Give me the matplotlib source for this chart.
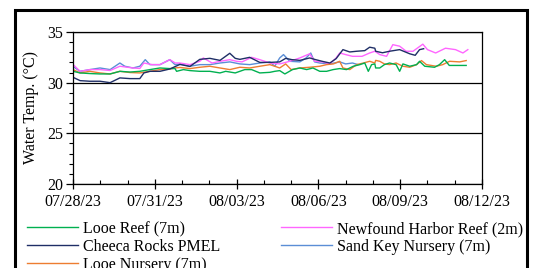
import numpy as np
import pandas as pd
import matplotlib
matplotlib.use('Agg')
from matplotlib import pyplot as plt
import matplotlib.dates as mdates
from matplotlib.patches import Rectangle

plt.rcParams['font.family'] = ['Liberation Serif', 'DejaVu Serif']

# data, days since 07/28/23 00:00
start = pd.Timestamp('2023-07-28')

looe_reef_days = [0, 0.26, 0.62, 0.99, 1.36, 1.72, 2.09, 2.45, 2.82, 3.19, 3.55, 3.74,
                  3.8, 4.05, 4.29, 4.65, 5.02, 5.39, 5.6, 5.95, 6.3, 6.55, 6.85, 7.22, 7.4,
                  7.58, 7.77, 8.05, 8.32, 8.57, 8.8, 9.05, 9.3, 9.54, 9.78, 10.03, 10.28, 10.52,
                  10.7, 10.83, 10.95, 11.07, 11.1, 11.25, 11.42, 11.61, 11.85, 11.98, 12.1, 12.35,
                  12.6, 12.71, 12.9, 13.26, 13.44, 13.63, 13.8, 14.18, 14.42]
looe_reef_temp = [31.12, 30.96, 30.9, 30.86, 30.86, 31.12, 31.05, 31.12, 31.29, 31.45, 31.39, 31.39,
                  31.12, 31.29, 31.19, 31.12, 31.12, 30.96, 31.12, 30.96, 31.29, 31.29, 30.96, 31.02, 31.12,
                  31.19, 30.86, 31.29, 31.45, 31.29, 31.45, 31.12, 31.12, 31.29, 31.39, 31.29, 31.62, 31.78,
                  31.94, 31.12, 31.78, 31.85, 31.45, 31.45, 31.78, 31.94, 31.78, 31.12, 31.85, 31.62,
                  31.78, 32.11, 31.62, 31.52, 31.78, 32.27, 31.7, 31.7, 31.7]

cheeca_days = [0, 0.26, 0.62, 0.99, 1.36, 1.72, 2.09, 2.45, 2.6, 2.82, 3.19, 3.55,
               3.92, 4.29, 4.65, 5.02, 5.39, 5.75, 5.95, 6.12, 6.48, 6.85, 7.22,
               7.58, 7.8, 8.03, 8.32, 8.68, 8.9, 9.15, 9.42, 9.65, 9.9, 10.15, 10.4, 10.7, 10.88, 11.07,
               11.1, 11.35, 11.61, 11.98, 12.35, 12.55, 12.71, 12.86]
cheeca_temp = [30.53, 30.2, 30.14, 30.14, 30.0, 30.47, 30.4, 30.4, 30.96, 31.12, 31.12, 31.35,
               31.8, 31.6, 32.3, 32.4, 32.2, 32.9, 32.4, 32.3, 32.5, 32.0, 32.0,
               32.05, 32.4, 32.27, 32.2, 32.44, 32.27, 32.1, 31.94, 32.37, 33.26, 33.03, 33.1, 33.16, 33.5, 33.4,
               33.1, 32.95, 33.1, 33.26, 32.85, 32.7, 33.26, 33.35]

looe_nursery_days = [0, 0.26, 0.62, 0.99, 1.36, 1.72, 2.09, 2.45, 2.82, 3.19, 3.55, 3.74,
                     3.92, 4.29, 4.65, 5.02, 5.39, 5.75, 6.12, 6.48, 6.85, 7.22, 7.4,
                     7.58, 7.8, 8.0, 8.32, 8.68, 9.05, 9.3, 9.55, 9.78, 9.9, 10.15, 10.4, 10.65, 10.88, 11.07,
                     11.1, 11.25, 11.42, 11.61, 11.85, 12.1, 12.35, 12.6, 12.78, 12.96, 13.32, 13.56,
                     13.81, 14.18, 14.42]
looe_nursery_temp = [31.29, 30.96, 31.12, 30.96, 30.86, 31.12, 31.0, 30.96, 31.12, 31.29, 31.35, 31.45,
                     31.5, 31.39, 31.52, 31.62, 31.45, 31.29, 31.52, 31.45, 31.62, 31.78, 31.62,
                     31.45, 31.85, 31.29, 31.45, 31.52, 31.62, 31.78, 31.85, 32.11, 31.45, 31.29, 31.78, 31.94, 32.11, 31.94,
                     32.2, 32.11, 31.85, 31.78, 31.94, 31.62, 31.52, 31.78, 32.18, 31.78, 31.62, 31.78,
                     32.11, 32.05, 32.18]

newfound_days = [0, 0.26, 0.62, 0.99, 1.36, 1.72, 2.2, 2.45, 2.6, 2.9, 3.19, 3.55,
                 3.75, 3.92, 4.29, 4.65, 4.78, 5.1, 5.4, 5.75, 6.0, 6.2, 6.55, 6.85, 7.22,
                 7.58, 7.95, 8.32, 8.68, 8.86, 9.15, 9.42, 9.65, 9.78, 10.0, 10.25, 10.6, 10.88, 11.07,
                 11.25, 11.5, 11.73, 11.98, 12.22, 12.47, 12.83, 13.0, 13.3, 13.66, 14.03, 14.3, 14.48]
newfound_temp = [31.8, 31.12, 31.29, 31.29, 31.2, 31.62, 31.45, 31.4, 31.94, 31.78, 31.78, 32.27,
                 31.94, 31.94, 31.78, 32.11, 32.44, 31.94, 32.11, 32.27, 32.11, 32.05, 32.5, 32.27, 31.94,
                 31.85, 32.11, 32.44, 32.85, 32.11, 32.05, 31.85, 32.44, 32.93, 32.77, 32.6, 32.6, 32.93, 33.1,
                 32.77, 32.6, 33.75, 33.6, 33.1, 33.1, 33.8, 33.26, 32.93, 33.4, 33.26, 32.93, 33.26]

sand_key_days = [0, 0.26, 0.62, 0.99, 1.36, 1.72, 1.9, 2.2, 2.45, 2.65, 2.82, 3.19, 3.55, 3.74,
                 3.92, 4.29, 4.65, 5.02, 5.39, 5.75, 6.12, 6.48, 6.85, 7.22, 7.4,
                 7.58, 7.72, 7.95, 8.32, 8.55, 8.72, 8.86, 9.05, 9.42, 9.78, 10.0, 10.25, 10.45]
sand_key_temp = [31.6, 31.12, 31.29, 31.45, 31.29, 31.94, 31.62, 31.45, 31.62, 32.27, 31.78, 31.78, 32.27, 31.78,
                 31.85, 31.62, 31.78, 31.78, 31.94, 32.05, 31.85, 31.78, 31.94, 32.05, 31.62,
                 32.44, 32.77, 32.11, 32.05, 32.44, 32.93, 32.05, 31.94, 31.85, 32.05, 31.85, 31.94, 31.78]

series = [
    ('Looe Reef (7m)', looe_reef_days, looe_reef_temp, '#00B050'),
    ('Cheeca Rocks PMEL', cheeca_days, cheeca_temp, '#1F2E66'),
    ('Looe Nursery (7m)', looe_nursery_days, looe_nursery_temp, '#ED7D31'),
    ('Newfound Harbor Reef (2m)', newfound_days, newfound_temp, '#FF66FF'),
    ('Sand Key Nursery (7m)', sand_key_days, sand_key_temp, '#5B8ED6'),
]
# draw order (light blue under others like the original)
draw_order = [4, 3, 2, 0, 1]

fig = plt.figure(figsize=(5.38, 2.68), dpi=100)
ax = fig.add_axes([73 / 538, 1 - 184 / 268, (482 - 73) / 538, (184 - 32) / 268])

lines = {}
for k in draw_order:
    name, d, t, c = series[k]
    x = start + pd.to_timedelta(np.array(d), unit='D')
    ln, = ax.plot(x, t, color=c, lw=1.0, label=name)
    lines[k] = ln

ax.set_ylim(20, 35)
ax.set_yticks([20, 25, 30, 35])
ax.set_yticks(np.arange(20, 36, 1), minor=True)
ax.set_xlim(start, pd.Timestamp('2023-08-12'))
ax.set_xticks(pd.date_range('2023-07-28', '2023-08-12', freq='3D'))
ax.set_xticks(pd.date_range('2023-07-28', '2023-08-12', freq='1D'), minor=True)
ax.xaxis.set_major_formatter(mdates.DateFormatter('%m/%d/%y'))
ax.grid(axis='y', which='major', color='black', lw=0.9)
ax.set_ylabel('Water Temp. (°C)', fontsize=11.5, labelpad=6)
ax.tick_params(axis='both', which='major', labelsize=11.5, color='black', width=0.9)
ax.tick_params(axis='y', which='major', direction='out', length=5, pad=2)
ax.tick_params(axis='y', which='minor', direction='out', length=3, width=0.8)
ax.tick_params(axis='x', which='major', direction='inout', length=7, pad=4)
ax.tick_params(axis='x', which='minor', direction='in', length=3, width=0.8)
for s in ax.spines.values():
    s.set_linewidth(0.9)

handles = [lines[k] for k in range(5)]
fig.legend(handles, [s[0] for s in series], ncol=2, loc='upper left',
           bbox_to_anchor=(27 / 538, 1 - 221 / 268), frameon=False, fontsize=11.5,
           borderpad=0, borderaxespad=0, handlelength=3.2, handletextpad=0.3,
           columnspacing=3.8, labelspacing=0.12)

fig.patches.append(Rectangle((15 / 538, -0.1), (527 - 15) / 538, 1.1 - 10 / 268,
                             transform=fig.transFigure, fill=False, lw=2.2,
                             edgecolor='black', clip_on=False))

fig.savefig('out.png', dpi=100)
